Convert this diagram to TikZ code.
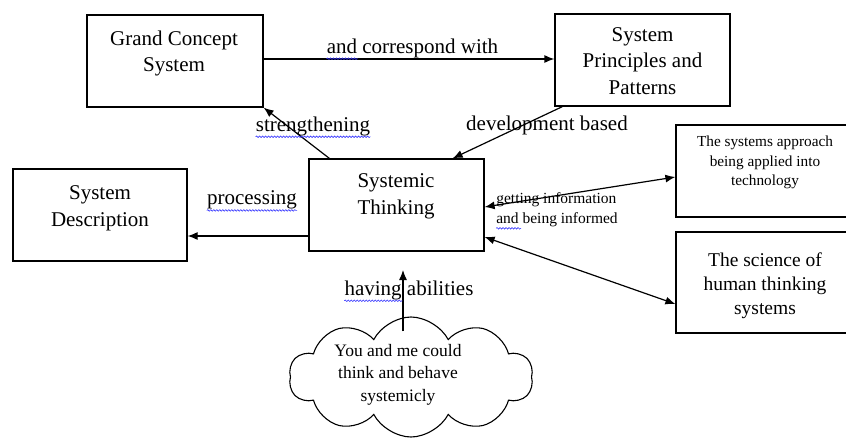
\documentclass[tikz,border=0pt]{standalone}
\usepackage{fontspec}
\setmainfont{Liberation Serif}
\usetikzlibrary{arrows.meta,shapes.symbols,decorations.pathmorphing}

\tikzset{
	box/.style={draw, line width=1.2pt, inner sep=0pt},
	txt/.style={align=center, inner sep=0pt, font=\fontsize{21}{26.5}\selectfont},
	lbl/.style={inner sep=0pt, font=\fontsize{21}{26}\selectfont},
	arr/.style={line width=1.2pt, -{Latex[length=10pt,width=8pt]}},
	dblarr/.style={line width=1.2pt, {Latex[length=10pt,width=8pt]}-{Latex[length=10pt,width=8pt]}},
	spell/.style={draw=blue!80, line width=0.6pt, decorate, decoration={snake, amplitude=0.8pt, segment length=3pt}}
}

\begin{document}
\begin{tikzpicture}[x=1pt, y=-1pt]
		\useasboundingbox (0,0) rectangle (846,439);

		\node (gcs)[box, minimum width=176pt, minimum height=92pt] at (175,61) {};
		\node (spp)[box, minimum width=175pt, minimum height=92pt] at (642.5,60) {};
		\node (st)[box, minimum width=175pt, minimum height=92pt] at (396.5,205) {};
		\node (sd)[box, minimum width=174pt, minimum height=92pt] at (100,215) {};
		\node (tech)[box, minimum width=176pt, minimum height=92pt] at (764,171) {};
		\node (sci)[box, minimum width=176pt, minimum height=101pt] at (764,282.5) {};
		\node (cloud)[cloud, draw, line width=1.1pt, cloud puffs=10, cloud puff arc=125, cloud ignores aspect, minimum width=244pt, minimum height=120pt, inner sep=0pt] at (411,377) {};

		\node (gcs-t)[txt] at (174,53.5) {Grand Concept\\System};
		\node (spp-t)[txt] at (642.5,61) {System\\Principles and\\Patterns};
		\node (st-t)[txt] at (396,196.5) {Systemic\\Thinking};
		\node (sd-t)[txt] at (100,208.5) {System\\Description};
		\node (tech-t)[txt, font=\fontsize{15.3}{19.5}\selectfont] at (765,162.5) {The systems approach\\being applied into\\technology};
		\node (sci-t)[txt, font=\fontsize{19.5}{24}\selectfont] at (765,285.5) {The science of\\human thinking\\systems};
		\node (cloud-t)[txt, font=\fontsize{17.5}{22.5}\selectfont] at (398,374.5) {You and me could\\think and behave\\systemicly};

		\node (corr)[lbl] at (412.5,48) {and correspond with};
		\node (stren)[lbl] at (313,126) {strengthening};
		\node (devel)[lbl] at (547,125) {development based};
		\node (proc)[lbl] at (252,200) {processing};
		\node (abil-t)[lbl] at (409,290) {having abilities};
		\node (info)[lbl, align=left, font=\fontsize{15.5}{20}\selectfont] at (557,210) {getting information\\and being informed};

		\coordinate (abil) at (403,270);

		\draw[arr] ([yshift=2pt]gcs.east) -- ([yshift=2pt]gcs.east -| spp.west);
		\draw[arr] ([xshift=21pt]st.north west) -- (gcs.south east);
		\draw[arr] ([xshift=8pt]spp.south west) -- ([xshift=-32pt]st.north east);
		\draw[arr] ([yshift=-31pt]st.west) -- ([yshift=-31pt]st.west -| sd.east);
		\draw[dblarr] ([yshift=-2pt]st.east) -- ([yshift=-6pt]tech.west);
		\draw[dblarr] ([yshift=-32pt]st.east) -- ([yshift=-21.5pt]sci.west);
		\draw[arr] ([shift={(-8pt,-15pt)}]cloud.north) -- (abil);

		\path[spell] ([yshift=-1pt]corr.south west) -- ++(31,0);
		\path[spell] ([yshift=-1pt]stren.south west) -- ([yshift=-1pt]stren.south east);
		\path[spell] ([yshift=-1pt]proc.south west) -- ([yshift=-1pt]proc.south east);
		\path[spell] ([yshift=-1pt]abil-t.south west) -- ++(58,0);
		\path[spell] ([yshift=-1pt]info.south west) -- ++(25,0);
	\end{tikzpicture}
\end{document}
